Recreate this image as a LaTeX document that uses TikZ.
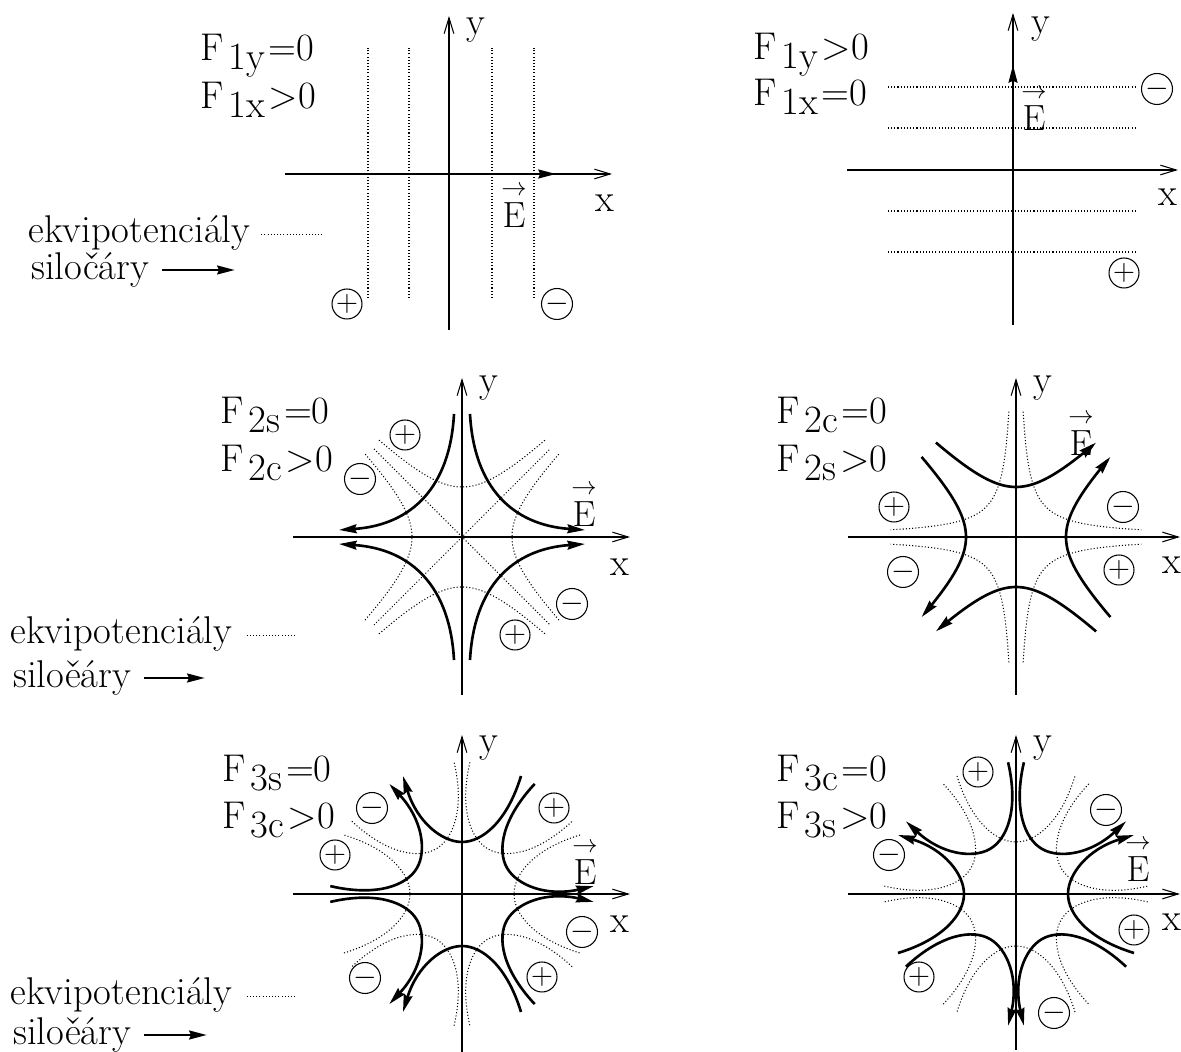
\documentclass[tikz,border=0pt]{standalone}
\usepackage{tikz}
\usetikzlibrary{arrows.meta}
\usepackage{amsmath}

\begin{document}
\begin{tikzpicture}[
  x=0.02cm, y=0.02cm,
  font=\fontsize{22}{26}\selectfont,
  every node/.style={inner sep=0pt},
  axis/.style={line width=0.6pt, -{Straight Barb[length=9pt,width=5.5pt]}},
  fline/.style={line width=1.5pt, -{Stealth[length=10pt,width=5pt,inset=1pt]}},
  equi/.style={line width=0.6pt, dash pattern=on 0.6pt off 1.2pt},
  chg/.style={circle, draw, line width=0.6pt, minimum size=0.6cm, inner sep=0pt, font=\fontsize{16}{16}\selectfont},
  flabel/.style={anchor=base west}
]
  \useasboundingbox (0,0) rectangle (1181,1052);
  % Row 1, left: F1y=0, F1x>0
  \node[flabel] (f1a) at (200,991) {F\kern3pt\raisebox{-0.5ex}{1y}\kern2pt=0};
  \node[flabel] (f1b) at (200,943) {F\kern3pt\raisebox{-0.5ex}{1x}\kern2pt>0};
  \node[anchor=west] (ekv1) at (28,819) {ekvipotenciály};
  \node[anchor=west] (sil1) at (31,782) {siločáry};
  \draw[equi] ([xshift=6pt,yshift=-1pt]ekv1.east) -- ++(61,0);
  \draw[fline] ([xshift=7pt]sil1.east) -- ++(73,0);
  \begin{scope}[shift={(449,878)}]
    \draw[equi] (-81,-124) -- (-81,126);
    \draw[equi] (-40,-124) -- (-40,126);
    \draw[equi] (43,-124) -- (43,126);
    \draw[equi] (85,-124) -- (85,126);
    \draw[axis] (-164,0) -- (163,0);
    \draw[axis] (0,-156) -- (0,158);
    \draw[fline] (0,0) -- (107,0);
    \node (x1) at (156,-29) {x};
    \node (y1) at (27,144) {y};
    \node (e1) at (65,-31) {$\overset{\scriptstyle\rightarrow}{\mathrm{E}}$};
    \node[chg] (p1) at (-102,-130) {$+$};
    \node[chg] (m1) at (108,-130) {$-$};
  \end{scope}
  % Row 1, right: F1y>0, F1x=0
  \node[flabel] (f2a) at (753,992) {F\kern3pt\raisebox{-0.5ex}{1y}\kern2pt>0};
  \node[flabel] (f2b) at (753,946) {F\kern3pt\raisebox{-0.5ex}{1x}\kern2pt=0};
  \begin{scope}[shift={(1013,882)}]
    \draw[equi] (-125,83) -- (124,83);
    \draw[equi] (-125,42) -- (124,42);
    \draw[equi] (-125,-41) -- (124,-41);
    \draw[equi] (-125,-82) -- (124,-82);
    \draw[axis] (-166,0) -- (165,0);
    \draw[axis] (0,-155) -- (0,157);
    \draw[fline] (0,0) -- (0,105);
    \node (x2) at (155,-27) {x};
    \node (y2) at (28,141) {y};
    \node (e2) at (21,62) {$\overset{\scriptstyle\rightarrow}{\mathrm{E}}$};
    \node[chg] (m2) at (144,81) {$-$};
    \node[chg] (p2) at (111,-103) {$+$};
  \end{scope}
  % Row 2, left: F2s=0, F2c>0
  \node[flabel] (f3a) at (220,628) {F\kern3pt\raisebox{-0.5ex}{2s}\kern2pt=0};
  \node[flabel] (f3b) at (220,580) {F\kern3pt\raisebox{-0.5ex}{2c}\kern2pt>0};
  \node[anchor=west] (ekv2) at (10,418) {ekvipotenciály};
  \node[anchor=west] (sil2) at (13,374) {siloěáry};
  \draw[equi] ([xshift=8pt,yshift=-1pt]ekv2.east) -- ++(48,0);
  \draw[fline] ([xshift=7pt]sil2.east) -- ++(61,0);
  \begin{scope}[shift={(462,515)}]
    \draw[equi] (-88,-88) -- (88,88);
    \draw[equi] (-88,88) -- (88,-88);
    \draw[equi] plot[domain=-1.28:1.28, samples=40, smooth] ({50*cosh(\x)},{50*sinh(\x)});
    \draw[equi] plot[domain=-1.28:1.28, samples=40, smooth] ({-50*cosh(\x)},{50*sinh(\x)});
    \draw[equi] plot[domain=-1.28:1.28, samples=40, smooth] ({50*sinh(\x)},{50*cosh(\x)});
    \draw[equi] plot[domain=-1.28:1.28, samples=40, smooth] ({50*sinh(\x)},{-50*cosh(\x)});
    \draw[fline] (8,123) .. controls (12,50) and (50,12) .. (123,7);
    \draw[fline] (-8,123) .. controls (-12,50) and (-50,12) .. (-123,7);
    \draw[fline] (-8,-123) .. controls (-12,-50) and (-50,-12) .. (-123,-7);
    \draw[fline] (8,-123) .. controls (12,-50) and (50,-12) .. (123,-7);
    \draw[axis] (-169,0) -- (168,0);
    \draw[axis] (0,-158) -- (0,159);
    \node (x3) at (158,-30) {x};
    \node (y3) at (27,149) {y};
    \node (e3) at (122,33) {$\overset{\scriptstyle\rightarrow}{\mathrm{E}}$};
    \node[chg] (p3a) at (-57,102) {$+$};
    \node[chg] (m3a) at (-102,58) {$-$};
    \node[chg] (m3b) at (110,-67) {$-$};
    \node[chg] (p3b) at (53,-98) {$+$};
  \end{scope}
  % Row 2, right: F2c=0, F2s>0
  \node[flabel] (f4a) at (776,628) {F\kern3pt\raisebox{-0.5ex}{2c}\kern2pt=0};
  \node[flabel] (f4b) at (776,580) {F\kern3pt\raisebox{-0.5ex}{2s}\kern2pt>0};
  \begin{scope}[shift={(1016,515)}]
    \draw[equi] plot[domain=-1.43:1.43, samples=40, smooth] ({30*exp(\x)},{30*exp(-\x)});
    \draw[equi] plot[domain=-1.43:1.43, samples=40, smooth] ({-30*exp(\x)},{30*exp(-\x)});
    \draw[equi] plot[domain=-1.43:1.43, samples=40, smooth] ({-30*exp(\x)},{-30*exp(-\x)});
    \draw[equi] plot[domain=-1.43:1.43, samples=40, smooth] ({30*exp(\x)},{-30*exp(-\x)});
    \draw[fline] plot[domain=-1.25:1.25, samples=40, smooth] ({50*sinh(\x)},{50*cosh(\x)});
    \draw[fline] plot[domain=-1.25:1.25, samples=40, smooth] ({-50*sinh(\x)},{-50*cosh(\x)});
    \draw[fline] plot[domain=-1.25:1.25, samples=40, smooth] ({-50*cosh(\x)},{-50*sinh(\x)});
    \draw[fline] plot[domain=-1.25:1.25, samples=40, smooth] ({50*cosh(\x)},{50*sinh(\x)});
    \draw[axis] (-168,0) -- (164,0);
    \draw[axis] (0,-158) -- (0,159);
    \node (x4) at (156,-28) {x};
    \node (y4) at (27,149) {y};
    \node (e4) at (65,104) {$\overset{\scriptstyle\rightarrow}{\mathrm{E}}$};
    \node[chg] (p4a) at (-122,30) {$+$};
    \node[chg] (m4a) at (107,30) {$-$};
    \node[chg] (m4b) at (-113,-35) {$-$};
    \node[chg] (p4b) at (103,-33) {$+$};
  \end{scope}
  % Row 3, left: F3s=0, F3c>0
  \node[flabel] (f5a) at (222,270) {F\kern3pt\raisebox{-0.5ex}{3s}\kern2pt=0};
  \node[flabel] (f5b) at (222,223) {F\kern3pt\raisebox{-0.5ex}{3c}\kern2pt>0};
  \node[anchor=west] (ekv3) at (10,57) {ekvipotenciály};
  \node[anchor=west] (sil3) at (13,17) {siloěáry};
  \draw[equi] ([xshift=8pt,yshift=-1pt]ekv3.east) -- ++(48,0);
  \draw[fline] ([xshift=7pt]sil3.east) -- ++(63,0);
  \begin{scope}[shift={(462,158)}]
    \draw[equi, rotate=30] (-59,118) .. controls (-45,72) and (-20,52) .. (0,52) .. controls (20,52) and (45,72) .. (59,118);
    \draw[equi, rotate=90] (-59,118) .. controls (-45,72) and (-20,52) .. (0,52) .. controls (20,52) and (45,72) .. (59,118);
    \draw[equi, rotate=150] (-59,118) .. controls (-45,72) and (-20,52) .. (0,52) .. controls (20,52) and (45,72) .. (59,118);
    \draw[equi, rotate=210] (-59,118) .. controls (-45,72) and (-20,52) .. (0,52) .. controls (20,52) and (45,72) .. (59,118);
    \draw[equi, rotate=270] (-59,118) .. controls (-45,72) and (-20,52) .. (0,52) .. controls (20,52) and (45,72) .. (59,118);
    \draw[equi, rotate=330] (-59,118) .. controls (-45,72) and (-20,52) .. (0,52) .. controls (20,52) and (45,72) .. (59,118);
    \draw[fline] (59,118) .. controls (45,72) and (20,52) .. (0,52) .. controls (-20,52) and (-45,72) .. (-59,118);
    \draw[fline, rotate=120] (59,118) .. controls (45,72) and (20,52) .. (0,52) .. controls (-20,52) and (-45,72) .. (-59,118);
    \draw[fline, rotate=240] (59,118) .. controls (45,72) and (20,52) .. (0,52) .. controls (-20,52) and (-45,72) .. (-59,118);
    \draw[fline, rotate=60] (-59,118) .. controls (-45,72) and (-20,52) .. (0,52) .. controls (20,52) and (45,72) .. (59,118);
    \draw[fline, rotate=180] (-59,118) .. controls (-45,72) and (-20,52) .. (0,52) .. controls (20,52) and (45,72) .. (59,118);
    \draw[fline, rotate=300] (-59,118) .. controls (-45,72) and (-20,52) .. (0,52) .. controls (20,52) and (45,72) .. (59,118);
    \draw[axis] (-169,0) -- (168,0);
    \draw[axis] (0,-158) -- (0,159);
    \node (x5) at (158,-30) {x};
    \node (y5) at (27,146) {y};
    \node (e5) at (123,32) {$\overset{\scriptstyle\rightarrow}{\mathrm{E}}$};
    \node[chg] (m5a) at (-90,86) {$-$};
    \node[chg] (p5a) at (-127,39) {$+$};
    \node[chg] (p5b) at (92,86) {$+$};
    \node[chg] (m5b) at (120,-38) {$-$};
    \node[chg] (p5c) at (80,-83) {$+$};
    \node[chg] (m5c) at (-97,-84) {$-$};
  \end{scope}
  % Row 3, right: F3c=0, F3s>0
  \node[flabel] (f6a) at (776,270) {F\kern3pt\raisebox{-0.5ex}{3c}\kern2pt=0};
  \node[flabel] (f6b) at (776,223) {F\kern3pt\raisebox{-0.5ex}{3s}\kern2pt>0};
  \begin{scope}[shift={(1016,158)}]
    \draw[equi] (-59,118) .. controls (-45,72) and (-20,52) .. (0,52) .. controls (20,52) and (45,72) .. (59,118);
    \draw[equi, rotate=60] (-59,118) .. controls (-45,72) and (-20,52) .. (0,52) .. controls (20,52) and (45,72) .. (59,118);
    \draw[equi, rotate=120] (-59,118) .. controls (-45,72) and (-20,52) .. (0,52) .. controls (20,52) and (45,72) .. (59,118);
    \draw[equi, rotate=180] (-59,118) .. controls (-45,72) and (-20,52) .. (0,52) .. controls (20,52) and (45,72) .. (59,118);
    \draw[equi, rotate=240] (-59,118) .. controls (-45,72) and (-20,52) .. (0,52) .. controls (20,52) and (45,72) .. (59,118);
    \draw[equi, rotate=300] (-59,118) .. controls (-45,72) and (-20,52) .. (0,52) .. controls (20,52) and (45,72) .. (59,118);
    \draw[fline, rotate=-90] (59,118) .. controls (45,72) and (20,52) .. (0,52) .. controls (-20,52) and (-45,72) .. (-59,118);
    \draw[fline, rotate=30] (59,118) .. controls (45,72) and (20,52) .. (0,52) .. controls (-20,52) and (-45,72) .. (-59,118);
    \draw[fline, rotate=150] (59,118) .. controls (45,72) and (20,52) .. (0,52) .. controls (-20,52) and (-45,72) .. (-59,118);
    \draw[fline, rotate=-30] (-59,118) .. controls (-45,72) and (-20,52) .. (0,52) .. controls (20,52) and (45,72) .. (59,118);
    \draw[fline, rotate=90] (-59,118) .. controls (-45,72) and (-20,52) .. (0,52) .. controls (20,52) and (45,72) .. (59,118);
    \draw[fline, rotate=210] (-59,118) .. controls (-45,72) and (-20,52) .. (0,52) .. controls (20,52) and (45,72) .. (59,118);
    \draw[axis] (-168,0) -- (164,0);
    \draw[axis] (0,-156) -- (0,159);
    \node (x6) at (156,-28) {x};
    \node (y6) at (27,146) {y};
    \node (e6) at (122,35) {$\overset{\scriptstyle\rightarrow}{\mathrm{E}}$};
    \node[chg] (p6a) at (-38,122) {$+$};
    \node[chg] (m6a) at (90,84) {$-$};
    \node[chg] (m6b) at (-127,39) {$-$};
    \node[chg] (p6b) at (118,-36) {$+$};
    \node[chg] (p6c) at (-97,-83) {$+$};
    \node[chg] (m6c) at (38,-119) {$-$};
  \end{scope}
\end{tikzpicture}
\end{document}
